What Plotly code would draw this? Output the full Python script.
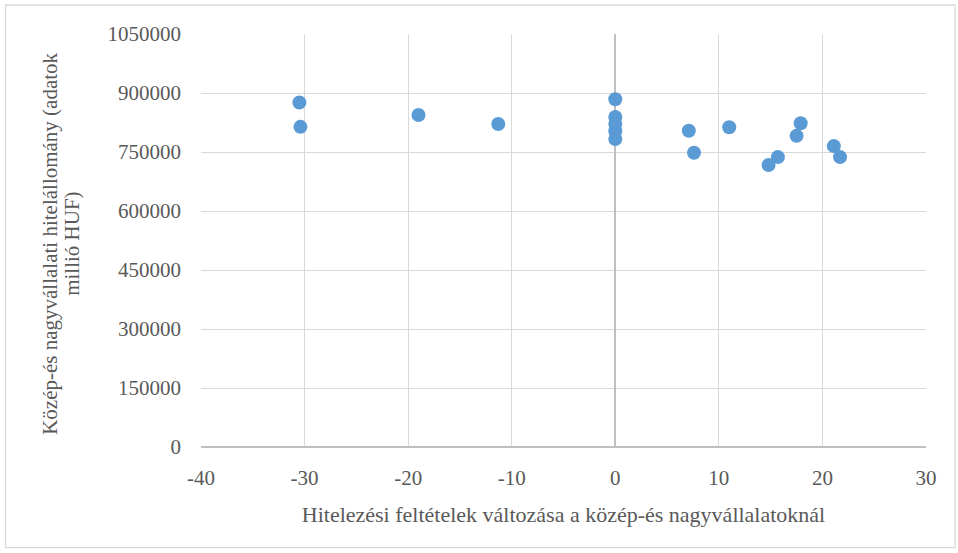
import plotly.graph_objects as go

# Data
x_change = [-30.5, -30.4, -19.0, -11.3, 0, 0, 0, 0, 0, 7.1, 7.6, 11.0, 14.8, 15.7, 17.9, 17.5, 21.1, 21.7]
loan_stock = [876000, 814000, 844000, 821000, 884000, 839000, 821000, 803000, 783000,
              804000, 748000, 813000, 717000, 737000, 823000, 791000, 765000, 737000]

x_ticks = [-40, -30, -20, -10, 0, 10, 20, 30]
y_ticks = [0, 150000, 300000, 450000, 600000, 750000, 900000, 1050000]

x_title = "Hitelezési feltételek változása a közép-és nagyvállalatoknál"
y_title_lines = ["Közép-és nagyvállalati hitelállomány (adatok", "millió HUF)"]

FONT = "Liberation Serif, serif"
GRAY = "#595959"

fig = go.Figure()
fig.add_trace(go.Scatter(
    x=x_change, y=loan_stock, mode="markers",
    marker=dict(size=14, color="#5B9BD5", line=dict(width=0)),
    showlegend=False, hoverinfo="x+y",
))

annotations = []
for line_text, px in zip(y_title_lines, [50, 72]):
    annotations.append(dict(
        text=line_text, xref="paper", yref="paper",
        x=(px - 201) / 725, y=(447.3 - 244) / 413.3,
        xanchor="center", yanchor="middle", textangle=-90, showarrow=False,
        font=dict(family=FONT, size=21, color=GRAY),
    ))

fig.update_layout(
    width=958, height=553,
    margin=dict(l=201, r=32, t=34, b=106),
    paper_bgcolor="white", plot_bgcolor="white",
    font=dict(family=FONT, color=GRAY, size=21),
    xaxis=dict(
        range=[-40, 30], tickvals=x_ticks, ticktext=[str(v) for v in x_ticks],
        showgrid=True, gridcolor="#D9D9D9", gridwidth=1.3,
        zeroline=True, zerolinecolor="#BFBFBF", zerolinewidth=1.5,
        showline=False, ticks="", ticklabelstandoff=16,
        tickfont=dict(family=FONT, size=21, color=GRAY),
        title=dict(text=x_title, font=dict(family=FONT, size=22, color=GRAY), standoff=17),
        automargin=False, fixedrange=True,
    ),
    yaxis=dict(
        range=[0, 1050000], tickvals=y_ticks, ticktext=[str(v) for v in y_ticks],
        showgrid=True, gridcolor="#D9D9D9", gridwidth=1.3,
        zeroline=True, zerolinecolor="#BFBFBF", zerolinewidth=1.5,
        showline=False, ticks="", ticklabelstandoff=19,
        tickfont=dict(family=FONT, size=21, color=GRAY),
        automargin=False, fixedrange=True,
    ),
    annotations=annotations,
    shapes=[dict(
        type="rect", xref="paper", yref="paper",
        x0=(5.5 - 201) / 725, x1=(955 - 201) / 725,
        y0=(447.3 - 548) / 413.3, y1=(447.3 - 5) / 413.3,
        line=dict(color="#D9D9D9", width=1.3), fillcolor="rgba(0,0,0,0)", layer="below",
    )],
)

fig.write_html("out.html", config={"displayModeBar": False},
               post_script="document.body.style.margin='0';")
